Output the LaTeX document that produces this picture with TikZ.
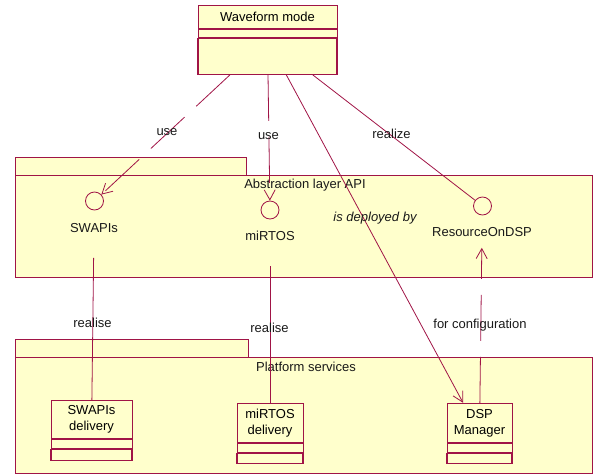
\documentclass[tikz,border=0pt]{standalone}
\usepackage{fontspec}
\setmainfont{Liberation Sans}
\usetikzlibrary{arrows.meta,fit,positioning}
\definecolor{umlline}{RGB}{160,20,70}
\definecolor{umlfill}{RGB}{255,255,204}
\tikzset
{
  pkg/.style     = {draw=umlline, fill=umlfill, line width=0.8pt},
  clsname/.style = {draw=umlline, fill=umlfill, line width=0.8pt, align=center, inner sep=0pt, anchor=north},
  clspart/.style = {draw=umlline, fill=umlfill, line width=0.8pt, inner sep=0pt, anchor=north},
  clsops/.style  = {clspart, line width=1.1pt},
  iface/.style   = {circle, draw=umlline, fill=umlfill, line width=0.8pt, minimum size=18pt, inner sep=0pt},
  lbl/.style     = {inner sep=1pt, text=black!90},
  link/.style    = {draw=umlline, line width=0.8pt},
  dep/.style     = {link, dash pattern=on 46pt off 16pt},
  opentip/.style = {-{Straight Barb[length=10pt,width=11pt]}}
}

\begin{document}
\begin{tikzpicture}[x=1pt,y=-1pt,font=\fontsize{13}{16}\selectfont]
  \useasboundingbox (0,0) rectangle (595,474);

  % packages
  \draw[pkg] (15,157) rectangle (246,175);
  \draw[pkg] (15,175) rectangle (592,277);
  \draw[pkg] (15,339) rectangle (248,357);
  \draw[pkg] (15,357) rectangle (592,473);
  \node[lbl] (abslbl) at (305,185.5) {Abstraction layer API};
  \node[lbl] (platlbl) at (306,367) {Platform services};

  % classes
  \node[clsname, minimum width=139pt, minimum height=23pt] (wfname) at (267.5,5) {Waveform mode};
  \node[clspart, minimum width=139pt, minimum height=8pt, below=0pt of wfname] (wfattr) {};
  \node[clsops, minimum width=139pt, minimum height=36pt, below=0pt of wfattr] (wfops) {};
  \node[fit=(wfname)(wfops), inner sep=0pt] (wf) {};

  \node[clsname, minimum width=81pt, minimum height=38pt] (swapiname) at (91.5,400) {SWAPIs\\delivery};
  \node[clspart, minimum width=81pt, minimum height=9pt, below=0pt of swapiname] (swapiattr) {};
  \node[clsops, minimum width=81pt, minimum height=11pt, below=0pt of swapiattr] (swapiops) {};
  \node[fit=(swapiname)(swapiops), inner sep=0pt] (swapidel) {};

  \node[clsname, minimum width=66pt, minimum height=39pt] (mirtosname) at (270,403) {miRTOS\\delivery};
  \node[clspart, minimum width=66pt, minimum height=9pt, below=0pt of mirtosname] (mirtosattr) {};
  \node[clsops, minimum width=66pt, minimum height=10pt, below=0pt of mirtosattr] (mirtosops) {};
  \node[fit=(mirtosname)(mirtosops), inner sep=0pt] (mirtosdel) {};

  \node[clsname, minimum width=65pt, minimum height=39pt] (dspname) at (479.5,403) {DSP\\Manager};
  \node[clspart, minimum width=65pt, minimum height=9pt, below=0pt of dspname] (dspattr) {};
  \node[clsops, minimum width=65pt, minimum height=10pt, below=0pt of dspattr] (dspops) {};
  \node[fit=(dspname)(dspops), inner sep=0pt] (dsp) {};

  % interfaces
  \node[iface] (swapi) at (94.5,201) {};
  \node[lbl] (swapilbl) at (94,228) {SWAPIs};
  \node[iface] (mirtos) at (270,210) {};
  \node[lbl] (mirtoslbl) at (270,235.5) {miRTOS};
  \node[iface] (rod) at (482.5,206) {};
  \node[lbl] (rodlbl) at (482,232) {ResourceOnDSP};

  % connectors
  \draw[dep, opentip] (wf) -- (swapi);
  \draw[dep, opentip] (wf) -- (mirtos);
  \draw[link, opentip] (wf) -- (dsp);
  \draw[link] (wf) -- (rod);
  \draw[link, shorten <=24pt] (swapilbl) -- (swapidel);
  \draw[link, shorten <=25pt] (mirtoslbl) -- (mirtosdel);
  \draw[dep, opentip, shorten >=10pt] (dsp) -- (rodlbl);

  \node[lbl] (use1) at (167,132) {use};
  \node[lbl] (use2) at (268.5,136) {use};
  \node[lbl] (realize) at (391.5,134) {realize};
  \node[lbl, font=\fontsize{13}{16}\selectfont\itshape] (deployed) at (375,218) {is deployed by};
  \node[lbl] (realise1) at (92.5,322.5) {realise};
  \node[lbl] (realise2) at (269.5,327.5) {realise};
  \node[lbl] (config) at (480,325) {for configuration};
\end{tikzpicture}
\end{document}
